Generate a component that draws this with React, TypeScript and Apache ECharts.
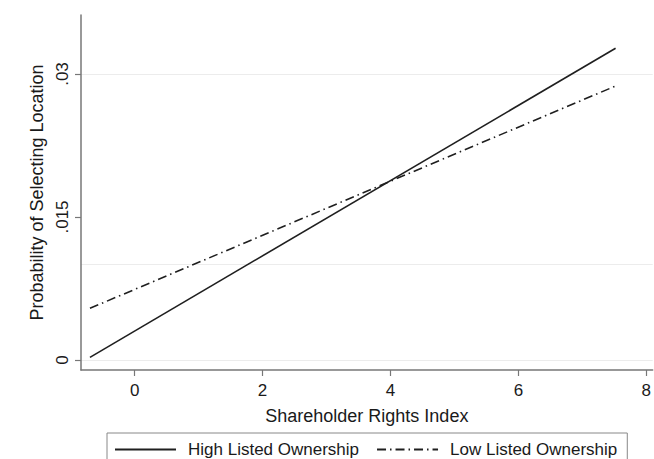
import React, { useEffect, useRef } from "react";
import * as echarts from "echarts";

const xValues = [-0.7, 7.52];
const highListed = [0.00028, 0.0327];
const lowListed = [0.00542, 0.02874];
const xTicks = [0, 2, 4, 6, 8];
const yTicks = [0, 0.015, 0.03];
const yTickLabels = ["0", ".015", ".03"];
const seriesNames = ["High Listed Ownership", "Low Listed Ownership"];

const FONT = "'Liberation Sans', Arial, Helvetica, sans-serif";

export default function App() {
  const ref = useRef<HTMLDivElement>(null);
  useEffect(() => {
    if (!ref.current) return;
    document.body.style.margin = "0";
    document.body.style.overflow = "hidden";
    const chart = echarts.init(ref.current, null, { renderer: "svg" });
    const toPairs = (ys: number[]) => xValues.map((x, i) => [x, ys[i]]);
    chart.setOption({
      animation: false,
      backgroundColor: "#ffffff",
      grid: { left: 81, right: 0, top: 15, bottom: 89 },
      xAxis: {
        type: "value",
        min: -0.84,
        max: 8.1,
        name: "Shareholder Rights Index",
        nameLocation: "middle",
        nameGap: 37,
        nameTextStyle: { fontFamily: FONT, fontSize: 18, color: "#1a1a1a" },
        axisLine: { show: true, onZero: false, lineStyle: { color: "#777", width: 1.5 } },
        axisTick: { show: true, length: 6, customValues: xTicks, lineStyle: { color: "#777", width: 1.2 } },
        axisLabel: {
          customValues: xTicks,
          margin: 12,
          fontFamily: FONT,
          fontSize: 17,
          color: "#1a1a1a",
          showMaxLabel: true,
        },
        splitLine: { show: false },
      },
      yAxis: {
        type: "value",
        min: -0.00105,
        max: 0.03619,
        name: "Probability of Selecting Location",
        nameLocation: "middle",
        nameGap: 34,
        nameTextStyle: { fontFamily: FONT, fontSize: 18, color: "#1a1a1a" },
        axisLine: { show: true, onZero: false, lineStyle: { color: "#777", width: 1.5 } },
        axisTick: { show: true, length: 6, customValues: yTicks, lineStyle: { color: "#777", width: 1.2 } },
        axisLabel: {
          customValues: yTicks,
          rotate: 90,
          margin: 10,
          fontFamily: FONT,
          fontSize: 17,
          color: "#1a1a1a",
          formatter: (v: number) => {
            const i = yTicks.findIndex((t) => Math.abs(t - v) < 1e-9);
            return i >= 0 ? yTickLabels[i] : "";
          },
        },
        splitLine: { show: false },
      },
      legend: {
        left: 107,
        top: 433,
        orient: "horizontal",
        itemWidth: 61,
        itemHeight: 14,
        itemGap: 17,
        padding: [8, 10, 8, 7],
        borderColor: "#888",
        borderWidth: 1,
        borderRadius: 0,
        itemStyle: { opacity: 0 },
        textStyle: { fontFamily: FONT, fontSize: 17, color: "#1a1a1a", padding: [0, 0, 0, 7] },
        data: seriesNames,
      },
      series: [
        {
          name: seriesNames[0],
          type: "line",
          data: toPairs(highListed),
          symbol: "none",
          lineStyle: { color: "#1f1f1f", width: 1.6, type: "solid" },
          itemStyle: { color: "#1f1f1f" },
          markLine: {
            silent: true,
            symbol: "none",
            label: { show: false },
            lineStyle: { color: "#ececec", width: 1, type: "solid" },
            data: yTicks.map((y) => ({ yAxis: y })),
            z: 0,
          },
        },
        {
          name: seriesNames[1],
          type: "line",
          data: toPairs(lowListed),
          symbol: "none",
          lineStyle: { color: "#1f1f1f", width: 1.6, type: [9, 4, 1.5, 4] },
          itemStyle: { color: "#1f1f1f" },
        },
      ],
    });
    return () => chart.dispose();
  }, []);
  return (
    <div
      ref={ref}
      style={{ position: "fixed", left: 0, top: 0, width: 654, height: 459, overflow: "hidden" }}
    />
  );
}
